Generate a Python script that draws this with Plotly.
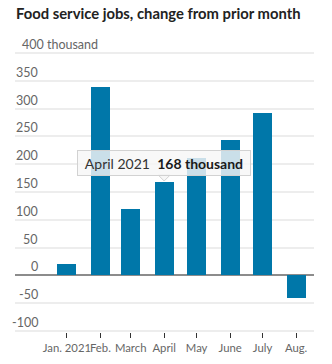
import plotly.graph_objects as go

# Monthly change in food service employment, 2021 (thousands)
months = ["2021-01-01", "2021-02-01", "2021-03-01", "2021-04-01",
          "2021-05-01", "2021-06-01", "2021-07-01", "2021-08-01"]
month_labels = ["Jan. 2021", "Feb.", "March", "April", "May", "June", "July", "Aug."]
change = [21, 339, 119, 168, 211, 244, 293, -41]

y_ticks = [-100, -50, 0, 50, 100, 150, 200, 250, 300, 350, 400]
y_tick_text = ["-100", "-50", "0", "50", "100", "150", "200", "250", "300", "350", "400 thousand"]

# Highlighted month shown in the hover-style callout
callout_index = 3
callout_label = "April 2021"

BAR = "#0077a9"
GRID = "#ededed"
TEXT = "#666666"
LABEL_FONT = "Liberation Sans Narrow, Lato, sans-serif"

fig = go.Figure()
fig.add_trace(go.Bar(
    x=months, y=change,
    width=17.6 * 86400000,
    marker=dict(color=BAR, line=dict(width=0)),
    hoverinfo="skip",
))

fig.update_layout(
    width=332, height=364,
    margin=dict(l=15, r=18, t=52, b=32, autoexpand=False),
    paper_bgcolor="white", plot_bgcolor="white",
    showlegend=False,
    bargap=0,
    title=dict(
        text="<b>Food service jobs, change from prior month</b>",
        x=0, xref="paper", xanchor="left",
        y=1, yref="container", yanchor="top", pad=dict(t=9, l=1),
        font=dict(family="Lato, Noto Sans, sans-serif", size=14.8, color="#222222"),
    ),
    xaxis=dict(
        type="date",
        range=["2020-11-14", "2021-08-17 14:00"],
        tickmode="array", tickvals=months, ticktext=month_labels,
        tickangle=0, automargin=False,
        ticks="outside", ticklen=5, tickwidth=1, tickcolor="#333333",
        showgrid=False, showline=False, zeroline=False,
        tickfont=dict(family=LABEL_FONT, size=11.3, color=TEXT),
        fixedrange=True,
    ),
    yaxis=dict(
        range=[-102, 402], automargin=False,
        tickmode="array", tickvals=y_ticks,
        showticklabels=False,
        showgrid=True, gridcolor=GRID, gridwidth=2,
        zeroline=True, zerolinecolor="#8c8c8c", zerolinewidth=2,
        fixedrange=True,
    ),
)

# Y labels sit right-aligned above their gridlines
for v, t in zip(y_ticks, y_tick_text):
    if t.endswith("thousand"):
        fig.add_annotation(x=0, xref="paper", xshift=5, xanchor="left",
                           y=v, yref="y", yanchor="bottom", yshift=-1,
                           text=t, showarrow=False,
                           font=dict(family=LABEL_FONT, size=12.5, color=TEXT))
    else:
        fig.add_annotation(x=0, xref="paper", xshift=25, xanchor="right",
                           y=v, yref="y", yanchor="bottom", yshift=-1,
                           text=t, showarrow=False,
                           font=dict(family=LABEL_FONT, size=12.5, color=TEXT))

# Callout box above the highlighted bar
cx = months[callout_index]
cy = change[callout_index]
fig.add_annotation(
    x=cx, y=cy, xref="x", yref="y",
    xanchor="center", yanchor="bottom", yshift=6,
    text=f"<span style='color:#333333'>{callout_label}</span>  <b>{cy} thousand</b>",
    showarrow=False,
    font=dict(family="Lato, Noto Sans, sans-serif", size=14, color="#1a1a1a"),
    bgcolor="rgba(246,246,246,0.82)", bordercolor="#d2d2d2", borderwidth=1,
    borderpad=3, width=166, height=18,
)
# Pointer of the callout
fig.add_shape(
    type="path", xref="x", yref="y",
    xsizemode="pixel", ysizemode="pixel",
    xanchor=cx, yanchor=cy,
    path="M -6,7 L 0,1 L 6,7 Z",
    fillcolor="rgba(246,246,246,0.9)", line=dict(color="#d2d2d2", width=1),
    layer="above",
)

fig.write_html("out.html")
